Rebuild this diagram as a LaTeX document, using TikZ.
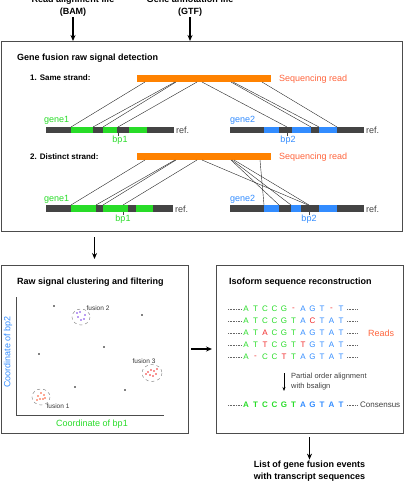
\documentclass[tikz,border=0pt]{standalone}
\usepackage{fontspec}
\setmainfont{Liberation Sans}
\usetikzlibrary{arrows.meta,positioning}

\definecolor{gfgreen}{RGB}{40,220,40}
\definecolor{gfblue}{RGB}{50,140,255}
\definecolor{gforange}{RGB}{255,130,0}
\definecolor{readred}{RGB}{255,100,60}
\definecolor{mutred}{RGB}{240,40,40}
\definecolor{refgray}{RGB}{68,68,68}
\definecolor{fuspurple}{RGB}{120,60,230}
\definecolor{fusorange}{RGB}{250,80,40}

% one row of the alignment: name, y, letters, extra style
\newcommand\seqrow[4]{%
  \draw[lead] (228,#2) -- (242,#2);
  \foreach \ch/\col [count=\i from 0] in {#3}
    \node[seqch, text=\col, #4] (#1-\i) at ({246+9.5*\i},#2) {\ch};
  \draw[lead] (347,#2) -- (358,#2);
}

\begin{document}
\begin{tikzpicture}[x=1pt,y=-1pt,
  panel/.style={draw=black!70, line width=0.8pt, inner sep=0pt, outer sep=0pt},
  flow/.style={-{Stealth[length=6pt,width=5pt]}, line width=1.2pt},
  io/.style={font=\fontsize{9}{12}\selectfont\bfseries, align=center, inner sep=1pt},
  title/.style={font=\fontsize{9}{11}\selectfont\bfseries, anchor=west, inner sep=0pt},
  sub/.style={font=\fontsize{8}{10}\selectfont\bfseries, anchor=west, inner sep=0pt},
  lbl/.style={font=\fontsize{9}{11}\selectfont, anchor=west, inner sep=0pt},
  link/.style={black!85, line width=0.4pt},
  tick/.style={refgray, line width=0.5pt},
  lead/.style={black!60, densely dotted, line width=0.6pt},
  seqch/.style={font=\fontsize{8}{10}\selectfont, inner sep=0pt},
  fus/.style={font=\fontsize{6.5}{8}\selectfont, text=black!80, inner sep=0pt},
  clus/.style={black!45, dashed, line width=0.5pt},
  pt/.style={fill=black, draw=none}
]
\useasboundingbox (0,0) rectangle (405,481);

% inputs
\node[io] (bam) at (73,6) {Read alignment file\\(BAM)};
\node[io] (gtf) at (190,6) {Gene annotation file\\(GTF)};

% panels
\node[panel, minimum width=401pt, minimum height=190pt] (detect) at (201.5,136) {};
\node[panel, minimum width=187pt, minimum height=168pt] (cluster) at (94.5,349) {};
\node[panel, minimum width=187pt, minimum height=168pt] (iso) at (309.5,349) {};
\node[io] (events) at (309.5,471) {List of gene fusion events\\with transcript sequences};

\draw[flow] (bam) -- (bam |- detect.north);
\draw[flow] (gtf) -- (gtf |- detect.north);
\draw[flow, shorten <=6pt, shorten >=6pt] (cluster.north |- detect.south) -- (cluster.north);
\draw[flow, shorten <=3pt, shorten >=4pt] (cluster.east) -- (iso.west);
\draw[flow, shorten <=4pt] (iso.south) -- (events.north);

%%% raw signal detection
\node[title] (dtitle) at (17,58) {Gene fusion raw signal detection};
\node[sub] (same) at (30,78) {1. Same strand:};
\node[sub] (dist) at (30,157) {2. Distinct strand:};

% same strand
\fill[gforange] (137,75) rectangle (271,82);
\node[lbl, text=readred] (read1) at (279,79) {Sequencing read};
\fill[refgray] (46,127) rectangle (174,133);
\foreach \a/\b in {71/93, 103/117, 129/147}
  \fill[gfgreen] (\a,127) rectangle (\b,133);
\fill[refgray] (230,127) rectangle (364,133);
\foreach \a/\b in {264/279, 292/311, 319/337}
  \fill[gfblue] (\a,127) rectangle (\b,133);
\foreach \a/\b in {145/71, 175/93, 176/103, 197/118, 202/287, 231/311, 233/319, 262/337}
  \draw[link] (\a,82) -- (\b,127);
\draw[tick] (118,133) -- (118,136);
\draw[tick] (287,133) -- (287,136);
\node[lbl, text=gfgreen] (g1a) at (44,120) {gene1};
\node[lbl, text=gfblue] (g2a) at (230,120) {gene2};
\node[lbl, text=gfgreen, anchor=center] (bp1a) at (120,140) {bp1};
\node[lbl, text=gfblue, anchor=center] (bp2a) at (288,140) {bp2};
\node[lbl, text=refgray] (ref1a) at (176,130) {ref.};
\node[lbl, text=refgray] (ref2a) at (366,130) {ref.};

% distinct strand
\fill[gforange] (137,153) rectangle (271,160);
\node[lbl, text=readred] (read2) at (279,157) {Sequencing read};
\fill[refgray] (46,205) rectangle (173,212);
\foreach \a/\b in {71/96, 103/128, 136/153}
  \fill[gfgreen] (\a,205) rectangle (\b,212);
\fill[refgray] (230,205) rectangle (364,212);
\foreach \a/\b in {264/279, 291/301, 319/337}
  \fill[gfblue] (\a,205) rectangle (\b,212);
\foreach \a/\b in {145/71, 175/96, 176/103, 197/123, 202/308, 231/279, 232/291, 234/309, 260/264}
  \draw[link] (\a,160) -- (\b,205);
\draw[tick] (123,212) -- (123,215);
\draw[tick] (309,212) -- (309,215);
\node[lbl, text=gfgreen] (g1b) at (44,199) {gene1};
\node[lbl, text=gfblue] (g2b) at (230,199) {gene2};
\node[lbl, text=gfgreen, anchor=center] (bp1b) at (123,219) {bp1};
\node[lbl, text=gfblue, anchor=center] (bp2b) at (309,219) {bp2};
\node[lbl, text=refgray] (ref1b) at (175,209) {ref.};
\node[lbl, text=refgray] (ref2b) at (366,209) {ref.};

%%% clustering
\node[title] (ctitle) at (17,282) {Raw signal clustering and filtering};
\draw[black!70, line width=0.6pt] (16,297) -- (16,415) -- (164,415);
\node[lbl, anchor=center, rotate=90, text=gfblue] (yax) at (8,352) {Coordinate of bp2};
\node[lbl, anchor=center, text=gfgreen] (xax) at (92,424) {Coordinate of bp1};
\foreach \x/\y in {54/306, 142/315, 104/347, 39/354, 75/387, 125/390}
  \fill[black] (\x,\y) circle (0.9);
\draw[clus] (81,317) ellipse (9 and 8);
\foreach \x/\y in {77/313, 80/312, 78/317, 81/320, 84/319, 85/315}
  \fill[fuspurple] (\x,\y) circle (0.8);
\draw[clus] (152,373) ellipse (10 and 8.5);
\foreach \x/\y in {148/372, 151/370, 154/371, 157/369, 150/375, 153/376, 156/374, 146/374}
  \fill[mutred] (\x,\y) circle (0.8);
\draw[clus] (41,397) ellipse (9 and 8);
\foreach \x/\y in {38/396, 41/393, 44/395, 40/399, 43/399, 37/400, 45/398}
  \fill[fusorange] (\x,\y) circle (0.8);
\node[fus] (f2) at (98,308) {fusion 2};
\node[fus] (f3) at (144,361) {fusion 3};
\node[fus] (f1) at (58,406) {fusion 1};

%%% isoform reconstruction
\node[title] (ititle) at (229,282) {Isoform sequence reconstruction};
\seqrow{ra}{309}{A/gfgreen,T/gfgreen,C/gfgreen,C/gfgreen,G/gfgreen,-/mutred,A/gfblue,G/gfblue,T/gfblue,-/mutred,T/gfblue}{}
\seqrow{rb}{321}{A/gfgreen,T/gfgreen,C/gfgreen,C/gfgreen,G/gfgreen,T/gfgreen,A/gfblue,C/mutred,T/gfblue,A/gfblue,T/gfblue}{}
\seqrow{rc}{333}{A/gfgreen,T/gfgreen,A/mutred,C/gfgreen,G/gfgreen,T/gfgreen,A/gfblue,G/gfblue,T/gfblue,A/gfblue,T/gfblue}{}
\seqrow{rd}{345}{A/gfgreen,T/gfgreen,T/mutred,C/gfgreen,G/gfgreen,T/gfgreen,T/mutred,G/gfblue,T/gfblue,A/gfblue,T/gfblue}{}
\seqrow{re}{357}{A/gfgreen,-/mutred,C/gfgreen,C/gfgreen,T/mutred,T/gfgreen,A/gfblue,G/gfblue,T/gfblue,A/gfblue,T/gfblue}{}
\node[lbl, text=readred] (reads) at (368,333) {Reads};
\coordinate (poa) at (284,373);
\coordinate (poa-end) at (284,391);
\draw[-{Stealth[length=4pt,width=3pt]}, line width=0.6pt] (poa) -- (poa-end);
\node[lbl, font=\fontsize{7.5}{10}\selectfont, text=black!75, align=left] (bsa) at (291,382) {Partial order alignment\\with bsalign};
\seqrow{cs}{405}{A/gfgreen,T/gfgreen,C/gfgreen,C/gfgreen,G/gfgreen,T/gfgreen,A/gfblue,G/gfblue,T/gfblue,A/gfblue,T/gfblue}{font=\fontsize{8}{10}\selectfont\bfseries}
\node[lbl, font=\fontsize{8}{10}\selectfont, text=black!75] (cons) at (360,405) {Consensus};
\end{tikzpicture}
\end{document}
